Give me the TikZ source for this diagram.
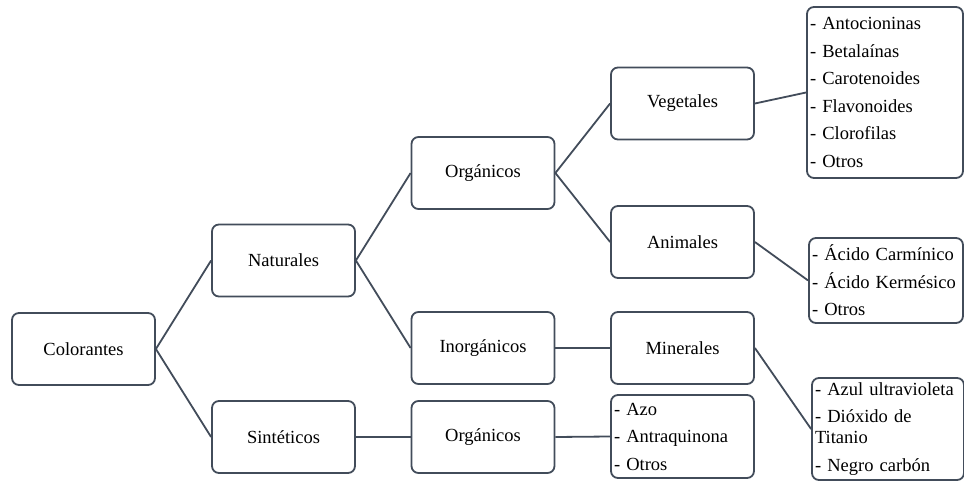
\documentclass[tikz,border=0pt]{standalone}
\usepackage{fontspec}
\setmainfont{Liberation Serif}
\usepackage{tikz}

\begin{document}
\begin{tikzpicture}[x=1pt,y=-1pt]
  % Colors
  \definecolor{boxline}{RGB}{66,76,90}

  % Styles
  \tikzstyle{box}=[draw=boxline,line width=1.8pt,rounded corners=7pt,
    minimum width=143pt,minimum height=72pt,inner sep=0pt,
    font=\fontsize{18.5pt}{21pt}\selectfont]
  \tikzstyle{list}=[box,align=left,inner xsep=3pt,inner ysep=0pt]
  \tikzstyle{link}=[draw=boxline,line width=1.8pt]

  \useasboundingbox (0,0) rectangle (964,481);

  % The boxes
  \node[box] (col) at (83.5,349) {Colorantes};
  \node[box] (nat) at (283.5,260.5) {Naturales};
  \node[box] (sin) at (283.5,437) {Sintéticos};
  \node[box] (org) at (483,173) {Orgánicos};
  \node[box] (inorg) at (483,348) {Inorgánicos};
  \node[box] (orgsin) at (483,437) {Orgánicos};
  \node[box] (veg) at (682.5,103.5) {Vegetales};
  \node[box] (anim) at (682.5,242) {Animales};
  \node[box] (min) at (682.5,348) {Minerales};

  % The lists
  \node[list,text width=150pt,minimum height=171pt] (veglist) at (885,92.5)
    {- Antocioninas\\[6.5pt]- Betalaínas\\[6.5pt]- Carotenoides\\[6.5pt]%
     - Flavonoides\\[6.5pt]- Clorofilas\\[6.5pt]- Otros};
  \node[list,text width=148pt,minimum height=85pt] (animlist) at (886,280.5)
    {- Ácido Carmínico\\[6.5pt]- Ácido Kermésico\\[6.5pt]- Otros};
  \node[list,text width=146pt,minimum height=102pt] (minlist) at (888,429)
    {- Azul ultravioleta\\[6.5pt]- Dióxido de\\Titanio\\[6.5pt]- Negro carbón};
  \node[list,text width=137pt,minimum height=83pt] (sinlist) at (682.5,436.5)
    {- Azo\\[6.5pt]- Antraquinona\\[6.5pt]- Otros};

  % The links
  \draw[link] (col.east) -- (nat.west);
  \draw[link] (col.east) -- (sin.west);
  \draw[link] (nat.east) -- (org.west);
  \draw[link] (nat.east) -- (inorg.west);
  \draw[link] (sin.east) -- (orgsin.west);
  \draw[link] (org.east) -- (veg.west);
  \draw[link] (org.east) -- (anim.west);
  \draw[link] (inorg.east) -- (min.west);
  \draw[link] (orgsin.east) -- (sinlist.west);
  \draw[link] (veg.east) -- (veglist.west);
  \draw[link] (anim.east) -- (animlist.west);
  \draw[link] (min.east) -- (minlist.west);
\end{tikzpicture}
\end{document}
